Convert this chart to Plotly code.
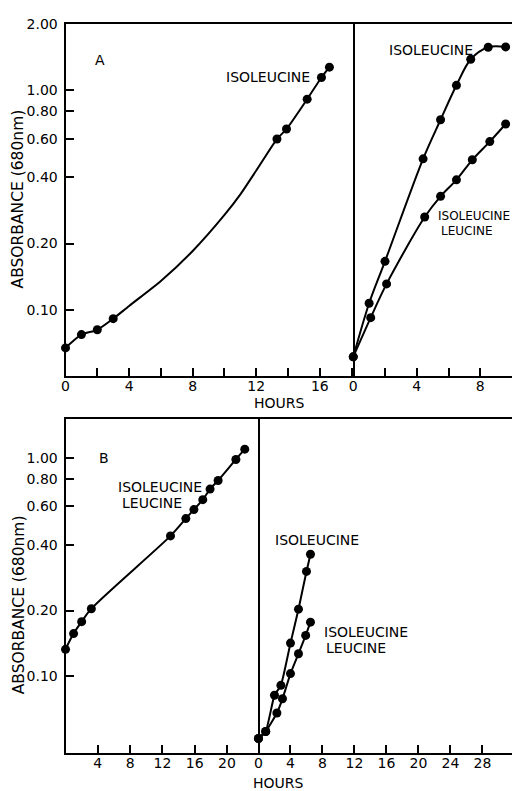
import plotly.graph_objects as go

# ---------------- data ----------------
# Panel A, left: ISOLEUCINE
A1_hours = [0, 1, 2, 3, 13.3, 13.9, 15.2, 16.1, 16.6]
A1_abs = [0.067, 0.077, 0.081, 0.091, 0.598, 0.664, 0.908, 1.14, 1.27]
A1_curve_hours = [4, 6, 8, 10, 11, 12]
A1_curve_abs = [0.104, 0.135, 0.185, 0.27, 0.335, 0.43]

# Panel A, right
A2_iso_hours = [0, 1.0, 2.0, 4.4, 5.5, 6.5, 7.4, 8.5, 9.6]
A2_iso_abs = [0.061, 0.107, 0.166, 0.486, 0.732, 1.05, 1.38, 1.565, 1.57]
A2_il_hours = [0, 1.1, 2.1, 4.5, 5.5, 6.5, 7.5, 8.6, 9.6]
A2_il_abs = [0.061, 0.092, 0.131, 0.264, 0.328, 0.390, 0.481, 0.582, 0.700]

# Panel B, left: ISOLEUCINE + LEUCINE
B1_hours = [0, 1.0, 2.0, 3.2, 13.0, 14.9, 15.9, 17.0, 17.9, 18.9, 21.1, 22.2]
B1_abs = [0.133, 0.157, 0.178, 0.204, 0.439, 0.527, 0.579, 0.643, 0.719, 0.787, 0.982, 1.094]

# Panel B, right
B2_iso_hours = [0, 0.9, 2.0, 2.8, 4.0, 5.0, 6.0, 6.5]
B2_iso_abs = [0.052, 0.056, 0.082, 0.091, 0.142, 0.203, 0.302, 0.362]
B2_il_hours = [0, 0.9, 2.3, 3.0, 4.0, 5.0, 5.9, 6.5]
B2_il_abs = [0.052, 0.056, 0.068, 0.079, 0.103, 0.127, 0.154, 0.177]

YA_ticks = [0.1, 0.2, 0.4, 0.6, 0.8, 1.0, 2.0]
YA_text = ["0.10", "0.20", "0.40", "0.60", "0.80", "1.00", "2.00"]
YB_ticks = [0.1, 0.2, 0.4, 0.6, 0.8, 1.0]
YB_text = ["0.10", "0.20", "0.40", "0.60", "0.80", "1.00"]

# ---------------- layout helpers ----------------
W, H = 512, 791
def px(x):
    return x / W
def py(y):
    return 1 - y / H

FONT = "DejaVu Sans"
BLACK = "black"

fig = go.Figure()

def add_series(x, y, xa, ya, smooth=0.8, lx=None, ly=None):
    fig.add_trace(go.Scatter(
        x=lx if lx is not None else x, y=ly if ly is not None else y,
        xaxis=xa, yaxis=ya, mode="lines",
        line=dict(color=BLACK, width=2, shape="spline", smoothing=smooth),
        hoverinfo="skip", showlegend=False))
    fig.add_trace(go.Scatter(
        x=x, y=y, xaxis=xa, yaxis=ya, mode="markers",
        marker=dict(color=BLACK, size=9), cliponaxis=False,
        showlegend=False))

# A left: line through data and drawn curve
lineA_x = A1_hours[:4] + A1_curve_hours + A1_hours[4:]
lineA_y = A1_abs[:4] + A1_curve_abs + A1_abs[4:]
add_series(A1_hours, A1_abs, "x", "y", smooth=0.7, lx=lineA_x, ly=lineA_y)
add_series(A2_iso_hours, A2_iso_abs, "x2", "y2", smooth=0.9)
add_series(A2_il_hours, A2_il_abs, "x2", "y2", smooth=0.9)
add_series(B1_hours, B1_abs, "x3", "y3", smooth=0.8)
add_series(B2_iso_hours, B2_iso_abs, "x4", "y4", smooth=0.5)
add_series(B2_il_hours, B2_il_abs, "x4", "y4", smooth=0.5)

tickfont = dict(family=FONT, size=14, color=BLACK)

def xaxis(domain, anchor, rng, tickvals, dtick_minor=None, mirror=True):
    d = dict(domain=domain, anchor=anchor, range=rng,
             tickmode="array", tickvals=tickvals,
             ticktext=[str(v) for v in tickvals],
             ticks="inside", ticklen=8, tickwidth=1.5, tickcolor=BLACK,
             showline=True, linecolor=BLACK, linewidth=2, mirror=mirror,
             showgrid=False, zeroline=False, tickfont=tickfont,
             ticklabelstandoff=-4)
    if dtick_minor:
        d["minor"] = dict(dtick=dtick_minor, tick0=0, ticks="inside",
                          ticklen=8, tickwidth=1.5, tickcolor=BLACK,
                          showgrid=False)
    return d

def yaxis_main(domain, anchor, rng, vals, text):
    return dict(domain=domain, anchor=anchor, type="log", range=rng,
                tickmode="array", tickvals=vals, ticktext=text,
                ticks="inside", ticklen=8, tickwidth=1.5, tickcolor=BLACK,
                showline=True, linecolor=BLACK, linewidth=2, mirror=True,
                showgrid=False, zeroline=False, tickfont=tickfont,
                ticklabelstandoff=3)

def yaxis_side(domain, anchor, rng):
    return dict(domain=domain, anchor=anchor, type="log", range=rng,
                showticklabels=False, ticks="", showline=False,
                showgrid=False, zeroline=False)

yA = [py(372), py(16)]
yB = [py(753), py(415)]
rA = [-1.303, 0.301]
rB = [-1.352, 0.178]

fig.update_layout(
    width=W, height=H,
    margin=dict(l=0, r=0, t=0, b=0),
    paper_bgcolor="white", plot_bgcolor="white",
    xaxis=xaxis([px(62), px(352)], "y", [0, 18.1], [0, 4, 8, 12, 16], 2),
    xaxis2=xaxis([px(352), 1.0], "y2", [0, 10], [0, 4, 8], 2),
    xaxis3=xaxis([px(62), px(256.5)], "y3", [0, 23.9], [4, 8, 12, 16, 20]),
    xaxis4=xaxis([px(256.5), 1.0], "y4", [0, 31.7], [0, 4, 8, 12, 16, 20, 24, 28]),
    yaxis=yaxis_main(yA, "x", rA, YA_ticks, YA_text),
    yaxis2=yaxis_side(yA, "x2", rA),
    yaxis3=yaxis_main(yB, "x3", rB, YB_ticks, YB_text),
    yaxis4=yaxis_side(yB, "x4", rB),
)

def label(text, x, y, size=14, anchor="center", angle=0):
    fig.add_annotation(text=text, xref="paper", yref="paper",
                       x=px(x), y=py(y), xanchor=anchor, yanchor="middle",
                       showarrow=False, textangle=angle,
                       font=dict(family=FONT, size=size, color=BLACK))

label("A", 97, 53)
label("B", 101, 455)
label("ISOLEUCINE", 266, 70)
label("ISOLEUCINE", 430, 42)
label("ISOLEUCINE", 435, 210, size=12, anchor="left")
label("LEUCINE", 438, 225.5, size=12, anchor="left")
label("ISOLEUCINE", 113, 483.5, anchor="left")
label("LEUCINE", 117, 500, anchor="left")
label("ISOLEUCINE", 315, 537.5)
label("ISOLEUCINE", 320, 630, anchor="left")
label("LEUCINE", 323, 647, anchor="left")
label("HOURS", 278, 399, size=14)
label("HOURS", 277, 783, size=14)
label("ABSORBANCE (680nm)", 14.5, 193, size=15.5, angle=-90)
label("ABSORBANCE (680nm)", 15.5, 603, size=15.5, angle=-90)

fig.write_html("out.html")
